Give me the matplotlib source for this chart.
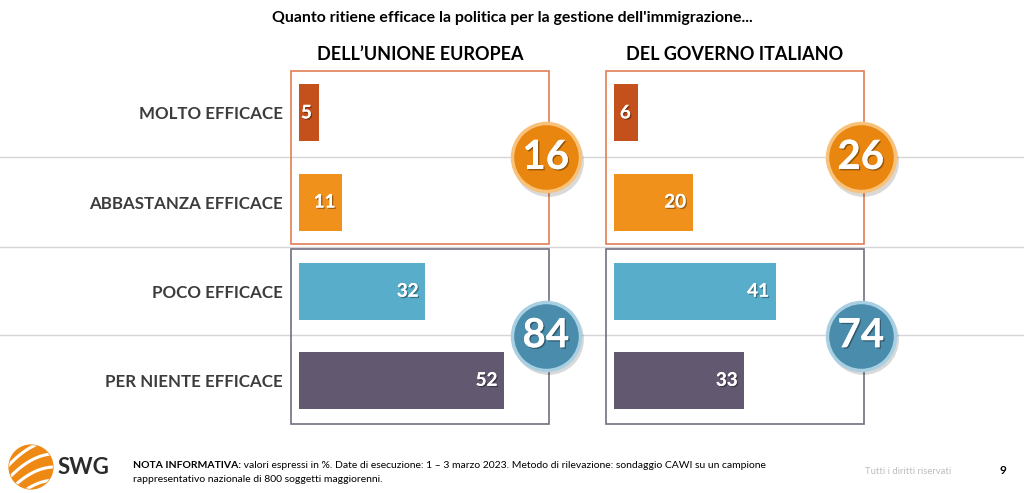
import matplotlib.pyplot as plt
import matplotlib.patheffects as pe
from matplotlib.patches import Rectangle, Circle
from matplotlib.lines import Line2D
import numpy as np

plt.rcParams['font.family'] = ['Lato', 'DejaVu Sans']

# data
categories = ['MOLTO EFFICACE', 'ABBASTANZA EFFICACE', 'POCO EFFICACE', 'PER NIENTE EFFICACE']
panels = ['DELL\u2019UNIONE EUROPEA', 'DEL GOVERNO ITALIANO']
ue_values = [5, 11, 32, 52]
gov_values = [6, 20, 41, 33]
bar_colors = ['#C4511B', '#F0911C', '#58AECA', '#625870']

title = "Quanto ritiene efficace la politica per la gestione dell'immigrazione..."
note_bold = 'NOTA INFORMATIVA:'
note_line1 = (' valori espressi in %. Date di esecuzione: 1 \u2013 3 marzo 2023. '
              'Metodo di rilevazione: sondaggio CAWI su un campione')
note_line2 = 'rappresentativo nazionale di 800 soggetti maggiorenni.'

W, H = 1024, 493
fig = plt.figure(figsize=(W / 100, H / 100), dpi=100)


def fx(px):
    return px / W


def fy(py):
    return 1 - py / H


# separators across the whole slide
for py in [157, 247, 335]:
    fig.add_artist(Line2D([0, 1], [fy(py), fy(py)], transform=fig.transFigure,
                          color='#D6D6D6', lw=1, zorder=0))

fig.text(0.5, fy(18), title, ha='center', va='center', fontsize=11.4,
         fontweight='bold', color='black')

shadow = [pe.withSimplePatchShadow(offset=(1, -1), shadow_rgbFace='black', alpha=0.35), pe.Normal()]

for i, (name, vals, left_px) in enumerate(zip(panels, [ue_values, gov_values], [291, 606])):
    ax = fig.add_axes([fx(left_px), fy(424), 258 / W, 353 / H])
    ax.set_facecolor('none')
    ax.barh(range(4), vals, height=0.64, color=bar_colors, zorder=3)
    ax.set_xlim(-2.03, 63.3)
    ax.set_ylim(3.49, -0.47)
    for s in ax.spines.values():
        s.set_visible(False)
    ax.set_xticks([])
    if i == 0:
        ax.set_yticks(range(4), labels=categories)
        ax.tick_params(axis='y', length=0, pad=6, labelsize=12.2, labelcolor='#3C3C3C')
        for t in ax.get_yticklabels():
            t.set_fontweight('bold')
    else:
        ax.set_yticks([])

    for j, v in enumerate(vals):
        ax.annotate(str(v), (v, j), xytext=(-5, 0), textcoords='offset points',
                    ha='right', va='center', color='white', fontsize=13.5,
                    fontweight='bold', zorder=4, path_effects=shadow)

    tr = ax.get_yaxis_transform()
    ax.add_patch(Rectangle((0, -0.47), 1, 1.94, transform=tr, fill=False,
                           ec='#E07E55', lw=1.2, clip_on=False, zorder=2))
    ax.add_patch(Rectangle((0, 1.53), 1, 1.96, transform=tr, fill=False,
                           ec='#707080', lw=1.2, clip_on=False, zorder=2))

    ax.text(0.5, -0.65, name, transform=tr, ha='center', va='center', fontsize=13,
            fontweight='bold', color='black')

    # net circles
    for yc, total, fc, ec in [(0.5, sum(vals[:2]), '#E8860F', '#F8C27A'),
                              (2.5, sum(vals[2:]), '#4A8CAC', '#A9D0E2')]:
        ax.scatter([63.0], [yc + 0.04], s=2600, color='#000000', alpha=0.15,
                   clip_on=False, zorder=5, linewidths=0)
        ax.scatter([62.5], [yc], s=2400, color=fc, edgecolors=ec, linewidths=2.5,
                   clip_on=False, zorder=6)
        ax.text(62.5, yc, str(total), ha='center', va='center', color='white',
                fontsize=29, fontweight='bold', zorder=7, path_effects=shadow)

# footer logo
lax = fig.add_axes([fx(8), fy(490), 46 / W, 46 / H])
lax.set_xlim(-1.05, 1.05)
lax.set_ylim(-1.05, 1.05)
lax.set_aspect('equal')
lax.axis('off')
sphere = Circle((0, 0), 1, color='#EE8A14')
lax.add_patch(sphere)
tt = np.linspace(-1.3, 1.3, 100)
for c in [-0.9, -0.3, 0.3, 0.9]:
    ln, = lax.plot(tt, 0.55 * tt + c - 0.25 * tt ** 2, color='white', lw=2.2)
    ln.set_clip_path(sphere)
fig.text(fx(58), fy(468), 'SWG', ha='left', va='center', fontsize=16,
         fontweight='bold', color='#2B2B2B')

renderer = fig.canvas.get_renderer()
tb = fig.text(fx(133), fy(465), note_bold, ha='left', va='center', fontsize=7.5,
              fontweight='bold', color='black')
bb = tb.get_window_extent(renderer)
fig.text(bb.x1 / W, fy(465), note_line1, ha='left', va='center', fontsize=7.5, color='black')
fig.text(fx(133), fy(480), note_line2, ha='left', va='center', fontsize=7.5, color='black')
fig.text(fx(951), fy(471), 'Tutti i diritti riservati', ha='right', va='center',
         fontsize=6.8, color='#BDBDBD')
fig.text(fx(1003), fy(471), '9', ha='center', va='center', fontsize=8.5,
         fontweight='bold', color='black')

fig.savefig('out.png', dpi=100)
